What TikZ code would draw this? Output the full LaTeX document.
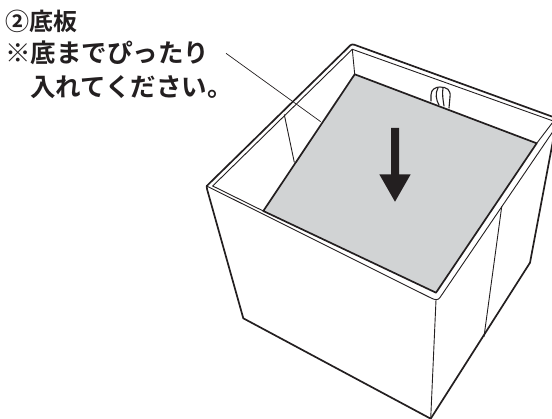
\documentclass[tikz,border=0pt]{standalone}
\usepackage{fontspec}
\newfontfamily\cjk{Noto Sans CJK JP}[BoldFont={Noto Sans CJK JP Bold}]
\definecolor{plate}{RGB}{209,211,212}
\definecolor{ink}{RGB}{35,31,32}
\tikzset{
  thick edge/.style={draw=ink,line width=1.7pt,line join=round,line cap=round},
  thin edge/.style={draw=ink,line width=0.9pt,line join=round,line cap=round},
  label text/.style={font=\cjk\bfseries\fontsize{25.5}{25.5}\selectfont,text=ink,inner sep=0pt,anchor=west}
}
\begin{document}
\begin{tikzpicture}[x=1pt,y=-1pt]
\useasboundingbox (0,0) rectangle (552,419);
\begin{scope}
\clip (0,0) rectangle (552,419);
% plate
\fill[plate] (354.7,74.3) -- (536.7,143.3) -- (436,292.7) -- (263.3,211) -- cycle;
% loop
\draw[thin edge,fill=white,line width=1.1pt] (431,101) -- (431,95) .. controls (431,89) and (436,87) .. (440,87) .. controls (447,87) and (451,90) .. (450,97) -- (449,108);
\draw[thin edge,line width=1.1pt] (438,88) .. controls (435,93) and (436,100) .. (439,105);
\draw[thin edge,line width=1.1pt] (443,88) .. controls (442,93) and (443,100) .. (444,106);
% plate outline
\draw[thick edge] (354.7,74.3) -- (536.7,143.3) -- (436,292.7) -- (263.3,211) -- cycle;
% box outer
\draw[thick edge] (206.7,186) .. controls (206.5,187) and (206.6,188) .. (207,189) -- (243.3,318.3) -- (430.7,418.7) -- (530,262.7) -- (555,130);
\draw[thick edge] (206.7,186) -- (350.5,45.2) .. controls (351.5,44.4) and (353,44.2) .. (354.5,44.8) -- (556,118);
% rim inner
\draw[thin edge] (212.7,186) -- (352.3,49.3) -- (556,122);
\draw[thin edge] (206.7,186) -- (431,298) .. controls (435,300) and (438,300.5) .. (440,297.5) -- (556,127);
\draw[thin edge] (212.7,186) -- (263.3,211);
% inside lines
\draw[thin edge] (352.3,49.3) -- (354.7,74.3);
\draw[thin edge] (284.3,114.7) -- (294.3,162.3);
\draw[thin edge] (501.7,206.7) -- (484,336.7);
\draw[thin edge] (436,300) -- (430.7,418.7);
\draw[thin edge] (536.7,143.3) -- (556,118);
\end{scope}
% arrow
\fill[ink] (391,128) -- (399,128) -- (399,174.3) -- (410.7,174.3) -- (395,201.7) -- (379.3,174.3) -- (391,174.3) -- cycle;
% labels
\node[label text,font=\cjk\bfseries\fontsize{24}{24}\selectfont] (title) at (5,21) {②底板};
\node[label text] (note1) at (5,52.5) {※底までぴったり};
\node[label text] (note2) at (30,87) {入れてください。};
\coordinate (leadstart) at (226,53.3);
\coordinate (leadend) at (320.7,121.7);
\draw[draw=ink,line width=0.7pt] (leadstart) -- (leadend);
\end{tikzpicture}
\end{document}
